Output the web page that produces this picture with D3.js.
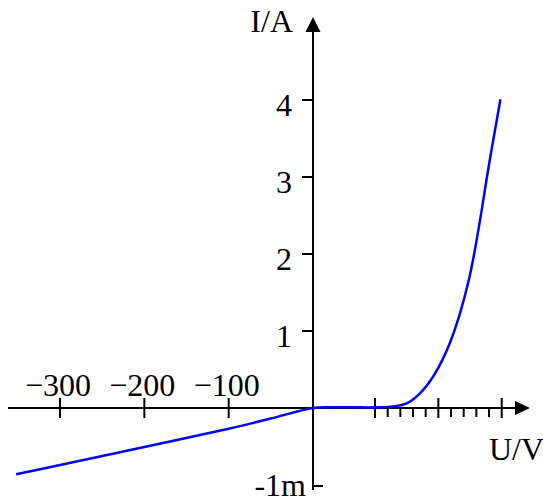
<!DOCTYPE html>
<html lang='en'>
	<head>
		<meta charset='utf-8'>
		<title>Diode characteristic</title>
		<script type='text/javascript' src='https://cdn.jsdelivr.net/npm/d3@7/dist/d3.min.js'></script>
		<style>
			body { margin: 0; background: white; }
			svg text { font-family: 'Liberation Serif', 'Times New Roman', serif; font-size: 32px; fill: black; }
			g.axis line { stroke: black; stroke-width: 2px; }
			path.curve { fill: none; stroke: #0000ff; stroke-width: 2.5px; }
		</style>
	</head>
	<body>
		<script type='text/javascript'>
			var width = 543;
			var height = 498;

			// reverse branch: U in V, I in mA
			var uNeg = [-352, -300, -200, -100, -50, 0];
			var iNeg = [-0.85, -0.73, -0.50, -0.265, -0.135, 0];

			// forward branch: U in V, I in A
			var uPos = [0, 0.15, 0.3, 0.45, 0.54, 0.64, 0.75, 0.855, 0.96, 1.09, 1.24, 1.41, 1.49];
			var iPos = [0, 0.009, 0.01, 0.008, 0.01, 0.02, 0.06, 0.19, 0.41, 0.84, 1.66, 3.26, 4.01];

			var negTicks = [-300, -200, -100];
			var negTickLabels = ['\u2212300', '\u2212200', '\u2212100'];
			var posMajor = [0.5, 1.0, 1.5];
			var posMinor = [0.6, 0.7, 0.8, 0.9, 1.1, 1.2, 1.3, 1.4];
			var yTicks = [1, 2, 3, 4];
			var yNegTick = -1;
			var yNegLabel = '-1m';

			// broken scales: different units on each side of the origin
			var x = d3.scaleLinear()
				.domain([-300, 0, 0.5, 1.5])
				.range([60, 313, 375, 501.7]);
			var y = d3.scaleLinear()
				.domain([-1, 0, 4])
				.range([486, 408, 100]);

			var svg = d3.select('body').append('svg')
				.attr('width', width)
				.attr('height', height);

			var x0 = x(0), y0 = y(0);
			var axis = svg.append('g').attr('class', 'axis');

			// axis lines
			axis.append('line').attr('x1', 8).attr('x2', 518).attr('y1', y0).attr('y2', y0);
			axis.append('line').attr('x1', x0).attr('x2', x0).attr('y1', 490).attr('y2', 30);

			// arrow heads
			axis.append('path')
				.attr('d', 'M530,' + y0 + 'L515,' + (y0 - 7) + 'L515,' + (y0 + 7) + 'Z')
				.style('fill', 'black');
			axis.append('path')
				.attr('d', 'M' + x0 + ',17L' + (x0 - 7.5) + ',32L' + (x0 + 7.5) + ',32Z')
				.style('fill', 'black');

			// negative voltage ticks
			axis.selectAll('line.neg')
				.data(negTicks)
				.enter().append('line')
					.attr('class', 'neg')
					.attr('x1', function(d) { return x(d); })
					.attr('x2', function(d) { return x(d); })
					.attr('y1', y0 - 10)
					.attr('y2', y0 + 10);
			svg.selectAll('text.neg')
				.data(negTicks)
				.enter().append('text')
					.attr('class', 'neg')
					.attr('x', function(d) { return x(d) - 2; })
					.attr('y', y0 - 12)
					.attr('text-anchor', 'middle')
					.text(function(d, i) { return negTickLabels[i]; });

			// forward voltage ticks
			axis.selectAll('line.major')
				.data(posMajor)
				.enter().append('line')
					.attr('class', 'major')
					.attr('x1', function(d) { return x(d); })
					.attr('x2', function(d) { return x(d); })
					.attr('y1', y0 - 10)
					.attr('y2', y0 + 10);
			axis.selectAll('line.minor')
				.data(posMinor)
				.enter().append('line')
					.attr('class', 'minor')
					.attr('x1', function(d) { return x(d); })
					.attr('x2', function(d) { return x(d); })
					.attr('y1', y0)
					.attr('y2', y0 + 9);

			// current ticks
			axis.selectAll('line.yt')
				.data(yTicks)
				.enter().append('line')
					.attr('class', 'yt')
					.attr('x1', x0 - 11)
					.attr('x2', x0)
					.attr('y1', function(d) { return y(d); })
					.attr('y2', function(d) { return y(d); });
			svg.selectAll('text.yt')
				.data(yTicks)
				.enter().append('text')
					.attr('class', 'yt')
					.attr('x', x0 - 21)
					.attr('y', function(d) { return y(d) + 16; })
					.attr('text-anchor', 'end')
					.text(function(d) { return d; });

			axis.append('line')
				.attr('x1', x0).attr('x2', x0 + 10)
				.attr('y1', y(yNegTick)).attr('y2', y(yNegTick));
			svg.append('text')
				.attr('x', x0 - 7)
				.attr('y', 496)
				.attr('text-anchor', 'end')
				.text(yNegLabel);

			// axis titles
			svg.append('text').attr('x', 293).attr('y', 32).attr('text-anchor', 'end').text('I/A');
			svg.append('text').attr('x', 489).attr('y', 460).text('U/V');

			// curve
			var pts = [];
			uNeg.forEach(function(u, i) { pts.push([u, iNeg[i]]); });
			uPos.forEach(function(u, i) { if (i > 0) pts.push([u, iPos[i]]); });

			var line = d3.line()
				.x(function(d) { return x(d[0]); })
				.y(function(d) { return y(d[1]); })
				.curve(d3.curveCatmullRom);

			svg.append('path')
				.attr('class', 'curve')
				.attr('d', line(pts));
		</script>
	</body>
</html>
